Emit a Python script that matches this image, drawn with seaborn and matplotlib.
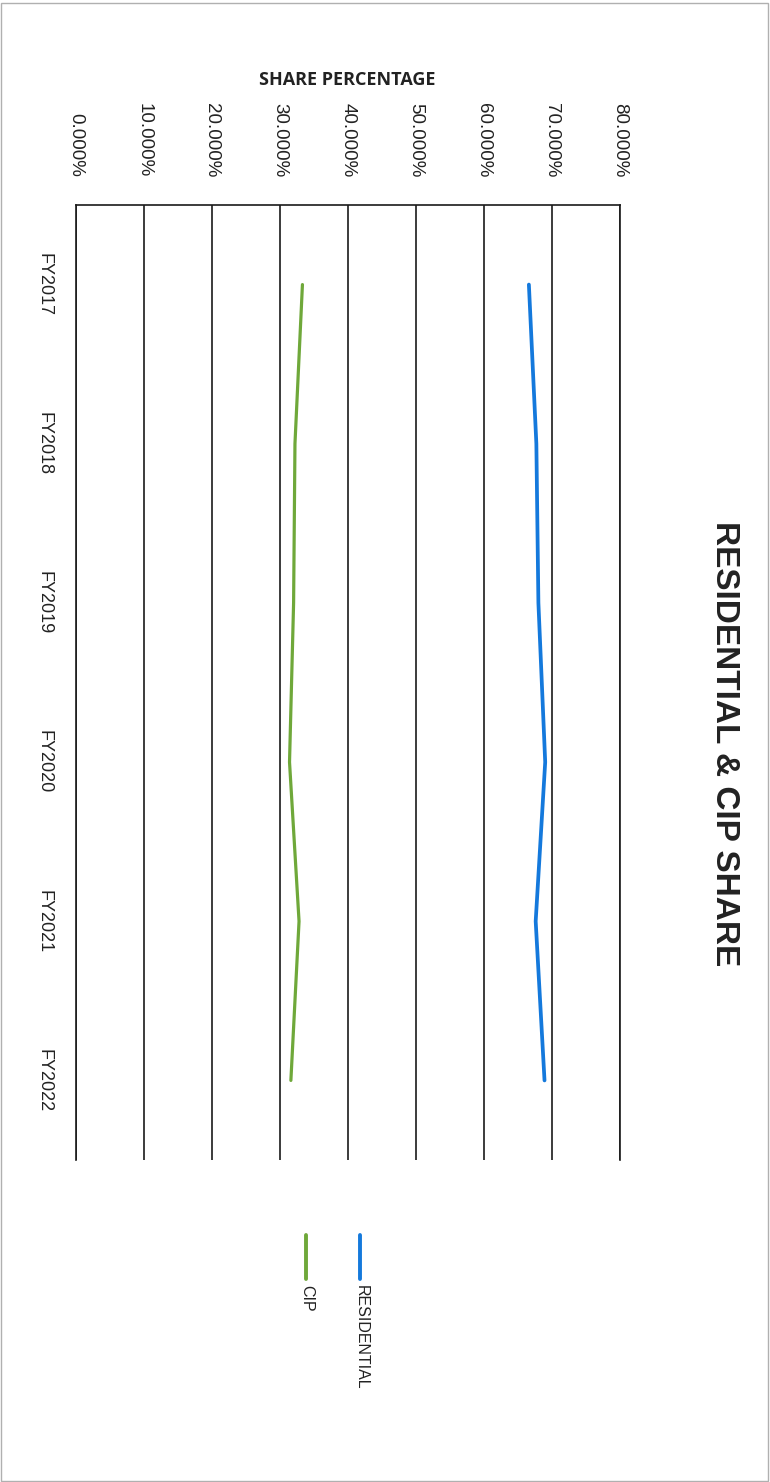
import matplotlib
matplotlib.use("Agg")
import matplotlib.pyplot as plt
from matplotlib.lines import Line2D
from matplotlib.patches import Rectangle
import seaborn as sns
import pandas as pd

# ---- data ----
years = ["FY2017", "FY2018", "FY2019", "FY2020", "FY2021", "FY2022"]
residential = [0.666, 0.677, 0.680, 0.690, 0.676, 0.689]
cip = [0.333, 0.322, 0.320, 0.314, 0.328, 0.316]
series_names = ["RESIDENTIAL", "CIP"]
value_ticks = [0.0, 0.1, 0.2, 0.3, 0.4, 0.5, 0.6, 0.7, 0.8]

colors = {"RESIDENTIAL": "#1479DC", "CIP": "#6FA83A"}

df = pd.DataFrame({
    "year": years * 2,
    "share": residential + cip,
    "series": [series_names[0]] * len(years) + [series_names[1]] * len(years),
})
df["pos"] = df["year"].map({y: i for i, y in enumerate(years)})

sns.set_theme(style="white")
plt.rcParams["font.family"] = ["Liberation Sans", "DejaVu Sans"]

W, H = 770, 1482
fig = plt.figure(figsize=(W / 100, H / 100), dpi=100)
fig.patch.set_facecolor("white")

left, right, top, bottom = 76, 620, 205, 1160
ax = fig.add_axes([left / W, 1 - bottom / H, (right - left) / W, (bottom - top) / H])

sns.lineplot(data=df, x="share", y="pos", hue="series", palette=colors,
             orient="y", sort=False, ax=ax, legend=False, linewidth=2.7,
             estimator=None)
for ln in ax.get_lines():
    ln.set_solid_capstyle("round")
    ln.set_solid_joinstyle("round")
    if ln.get_color().lower() == colors["CIP"].lower():
        ln.set_linewidth(2.3)

ax.set_xlim(0, 0.8)
ax.set_ylim(len(years) - 0.5, -0.5)

# value axis (horizontal, labels on top, rotated)
ax.xaxis.tick_top()
ax.set_xticks(value_ticks)
ax.set_xticklabels([f"{v*100:.3f}%" for v in value_ticks], rotation=-90,
                   va="bottom", ha="center", fontsize=13.5, color="#222222")
ax.tick_params(axis="x", length=0, pad=20)
ax.grid(axis="x", color="#1a1a1a", linewidth=1.2)
ax.grid(axis="y", visible=False)

# category axis (vertical, labels on the left, rotated)
ax.set_yticks(range(len(years)))
ax.set_yticklabels(years, rotation=-90, va="center", ha="center",
                   fontsize=13, color="#222222")
ax.tick_params(axis="y", length=0, pad=23)

ax.set_xlabel("")
ax.set_ylabel("")
for s in ["left", "right", "top"]:
    ax.spines[s].set_visible(True)
    ax.spines[s].set_color("#1a1a1a")
    ax.spines[s].set_linewidth(1.2)
ax.spines["bottom"].set_visible(False)

# value-axis title (horizontal, above)
fig.text(347 / W, 1 - 80 / H, "SHARE PERCENTAGE", ha="center", va="center",
         fontsize=13, fontweight="bold", family=["Open Sans", "DejaVu Sans"],
         color="#222222")

# chart title (rotated)
fig.text(724 / W, 1 - 744 / H, "RESIDENTIAL & CIP SHARE", rotation=-90,
         ha="center", va="center", fontsize=24, fontweight="bold",
         color="#222222")

# legend (vertical swatches, rotated text)
leg_x = {"RESIDENTIAL": 360, "CIP": 306}
for name in series_names:
    x = leg_x[name] / W
    fig.add_artist(Line2D([x, x], [1 - 1235 / H, 1 - 1279 / H],
                          color=colors[name], linewidth=2.8,
                          solid_capstyle="round", transform=fig.transFigure))
    fig.text(x + 1 / W, 1 - 1285 / H, name, rotation=-90, ha="center", va="top",
             fontsize=11.5, color="#222222")

# page border from the scan
fig.add_artist(Rectangle((0.001, 0.001), 0.997, 0.997, fill=False,
                         edgecolor="#b0b0b0", linewidth=1.0,
                         transform=fig.transFigure))

fig.savefig("out.png", dpi=100, facecolor="white")
